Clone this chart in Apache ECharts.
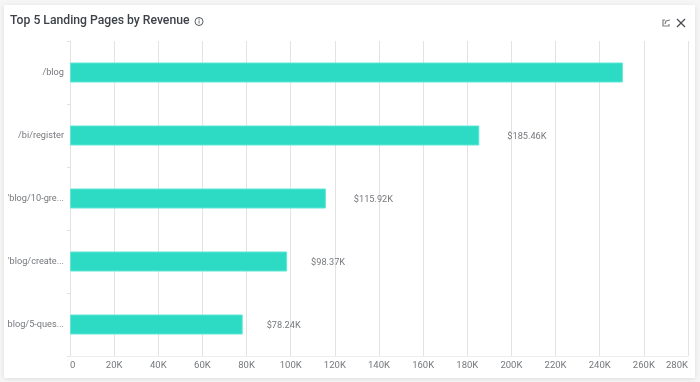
<!DOCTYPE html>
<html><head><meta charset="utf-8">
<style>html,body{margin:0;padding:0;background:#f6f6f6}#c{width:700px;height:382px}</style>
<script src="https://cdn.jsdelivr.net/npm/echarts@6/dist/echarts.min.js"></script>
</head><body><div id="c"></div>
<script>
const categories = ["/blog", "/bi/register", "'blog/10-gre...", "'blog/create...", "blog/5-ques..."];
const revenue = [250500, 185460, 115920, 98370, 78240];
const hiddenLabels = ["/blog"];
const titleText = "Top 5 Landing Pages by Revenue";

const chart = echarts.init(document.getElementById('c'), null, {renderer:'canvas'});
chart.setOption({
  animation:false,
  backgroundColor:'#f6f6f6',
  textStyle:{fontFamily:'Roboto'},
  title:{text:titleText,left:10,top:15,padding:0,textStyle:{fontFamily:'Roboto',fontSize:12.2,fontWeight:500,color:'#3c4249'}},
  grid:{left:70,right:12,top:41,bottom:26,containLabel:false,outerBoundsMode:'none'},
  xAxis:{type:'value',min:0,max:280000,interval:20000,
    axisLine:{show:true,lineStyle:{color:'#eeeeee'}},axisTick:{show:false},
    splitLine:{show:true,lineStyle:{color:'#e3e3e3',width:1}},
    axisLabel:{color:'#75787c',fontSize:9.5,margin:5,alignMinLabel:'left',alignMaxLabel:'right',
      formatter:v=>v===0?'0':(v/1000)+'K'}},
  yAxis:{type:'category',inverse:true,data:categories,
    axisLine:{show:true,lineStyle:{color:'#e3e3e3'}},
    axisTick:{show:true,length:3,lineStyle:{color:'#e3e3e3'}},
    axisLabel:{color:'#75787c',fontSize:9.2,margin:6,padding:[4,0,0,0]}},
  series:[{type:'bar',barWidth:20,
    data:revenue.map((v,i)=>({value:v,label:{show:!hiddenLabels.includes(categories[i]),distance:v>=100000?28:24}})),
    itemStyle:{color:'#2ddbc5',borderColor:'#5fe6d5',borderWidth:1},
    label:{position:'right',color:'#75787c',fontSize:9.2,offset:[0,1],
      formatter:p=>'$'+(p.value/1000).toFixed(2)+'K'}}],
  graphic:[
    {type:'rect',z:-10,silent:true,shape:{x:4,y:5,width:691,height:373},
      style:{fill:'#fff',shadowBlur:5,shadowColor:'rgba(0,0,0,0.10)',shadowOffsetY:1}},
    {type:'circle',shape:{cx:199,cy:21.5,r:4},style:{fill:'none',stroke:'#55595e',lineWidth:1}},
    {type:'rect',shape:{x:198.6,y:20.5,width:0.9,height:3},style:{fill:'#55595e'}},
    {type:'rect',shape:{x:198.6,y:18.8,width:0.9,height:0.9},style:{fill:'#55595e'}},
    {type:'polyline',shape:{points:[[665,20],[663,20],[663,26],[669,26],[669,24]]},style:{fill:'none',stroke:'#7d8185',lineWidth:1.2}},
    {type:'polyline',shape:{points:[[665,24],[666,21],[670,20]]},style:{fill:'none',stroke:'#7d8185',lineWidth:1.2}},
    {type:'line',shape:{x1:677,y1:19,x2:685,y2:27},style:{stroke:'#4a4e53',lineWidth:1.3}},
    {type:'line',shape:{x1:685,y1:19,x2:677,y2:27},style:{stroke:'#4a4e53',lineWidth:1.3}}
  ]
});
</script></body></html>
